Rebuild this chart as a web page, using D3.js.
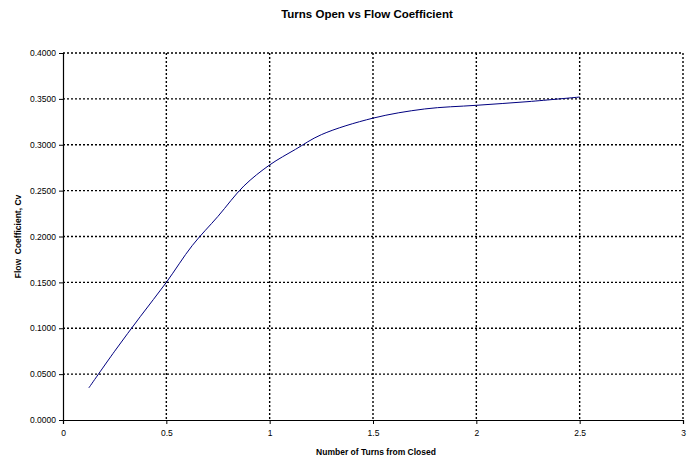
<!doctype html>
<html>
<head>
<meta charset="utf-8">
<script src="https://cdn.jsdelivr.net/npm/d3@7/dist/d3.min.js"></script>
<style>
  body { margin: 0; background: #fff; }
  text { font-family: "Liberation Sans", Arial, sans-serif; }
</style>
</head>
<body>
<svg id="chart"></svg>
<script>
// values
var turns = [0.125, 0.25, 0.375, 0.5, 0.625, 0.75, 0.875, 1, 1.125, 1.25, 1.5, 1.75, 2, 2.25, 2.5];
var cv    = [0.035, 0.075, 0.113, 0.150, 0.190, 0.222, 0.255, 0.278, 0.295, 0.311, 0.329, 0.339, 0.343, 0.347, 0.352];
var xTicks = [0, 0.5, 1, 1.5, 2, 2.5, 3];
var yTicks = [0, 0.05, 0.1, 0.15, 0.2, 0.25, 0.3, 0.35, 0.4];
var title = "Turns Open vs Flow Coefficient";
var xTitle = "Number of Turns from Closed";
var yTitle = "Flow  Coefficient, Cv";

var width = 699, height = 462;
var margin = {top: 53, right: 16, bottom: 42, left: 63};
var w = width - margin.left - margin.right, h = height - margin.top - margin.bottom;

var x = d3.scaleLinear().domain([0, 3]).range([0, w]);
var y = d3.scaleLinear().domain([0, 0.4]).range([h, 0]);

var svg = d3.select("#chart").attr("width", width).attr("height", height);
var chart = svg.append("g").attr("transform", "translate(" + margin.left + "," + margin.top + ")");

// dotted grid
chart.append("g").selectAll("line.hg").data(yTicks.slice(1)).enter().append("line")
    .attr("x1", 0).attr("x2", w)
    .attr("y1", d => y(d)).attr("y2", d => y(d))
    .attr("stroke", "#000").attr("stroke-width", 1.4).attr("stroke-dasharray", "2,2");
chart.append("g").selectAll("line.vg").data(xTicks.slice(1)).enter().append("line")
    .attr("x1", d => x(d)).attr("x2", d => x(d))
    .attr("y1", 0).attr("y2", h)
    .attr("stroke", "#000").attr("stroke-width", 1.4).attr("stroke-dasharray", "2,2");

var xaxis = d3.axisBottom(x).tickValues(xTicks).tickFormat(d3.format("")).tickSize(4).tickPadding(6);
var yaxis = d3.axisLeft(y).tickValues(yTicks).tickFormat(d3.format(".4f")).tickSize(4).tickPadding(3);

var gx = chart.append("g").attr("transform", "translate(0," + h + ")").call(xaxis);
var gy = chart.append("g").call(yaxis);
[gx, gy].forEach(g => {
  g.select(".domain").attr("stroke", "#000").attr("stroke-width", 1.2);
  g.selectAll(".tick line").attr("stroke", "#000");
  g.selectAll(".tick text").attr("fill", "#000").style("font-size", "8.5px")
   .style("font-family", "'Liberation Sans', Arial, sans-serif");
});

var line = d3.line().curve(d3.curveCatmullRom.alpha(0.5))
    .x((d, i) => x(turns[i])).y((d, i) => y(cv[i]));
chart.append("path").datum(cv).attr("d", line)
    .attr("fill", "none").attr("stroke", "#000080").attr("stroke-width", 1);

svg.append("text").attr("x", 367).attr("y", 18).attr("text-anchor", "middle")
    .style("font-size", "11.5px").style("font-weight", "bold").text(title);
svg.append("text").attr("x", margin.left + w / 2 + 3).attr("y", 455).attr("text-anchor", "middle")
    .style("font-size", "8.5px").style("font-weight", "bold").text(xTitle);
svg.append("text").attr("transform", "translate(21," + (margin.top + h / 2) + ") rotate(-90)")
    .attr("text-anchor", "middle").attr("xml:space", "preserve").style("white-space", "pre")
    .style("font-size", "8.5px").style("font-weight", "bold").text(yTitle);
</script>
</body>
</html>
